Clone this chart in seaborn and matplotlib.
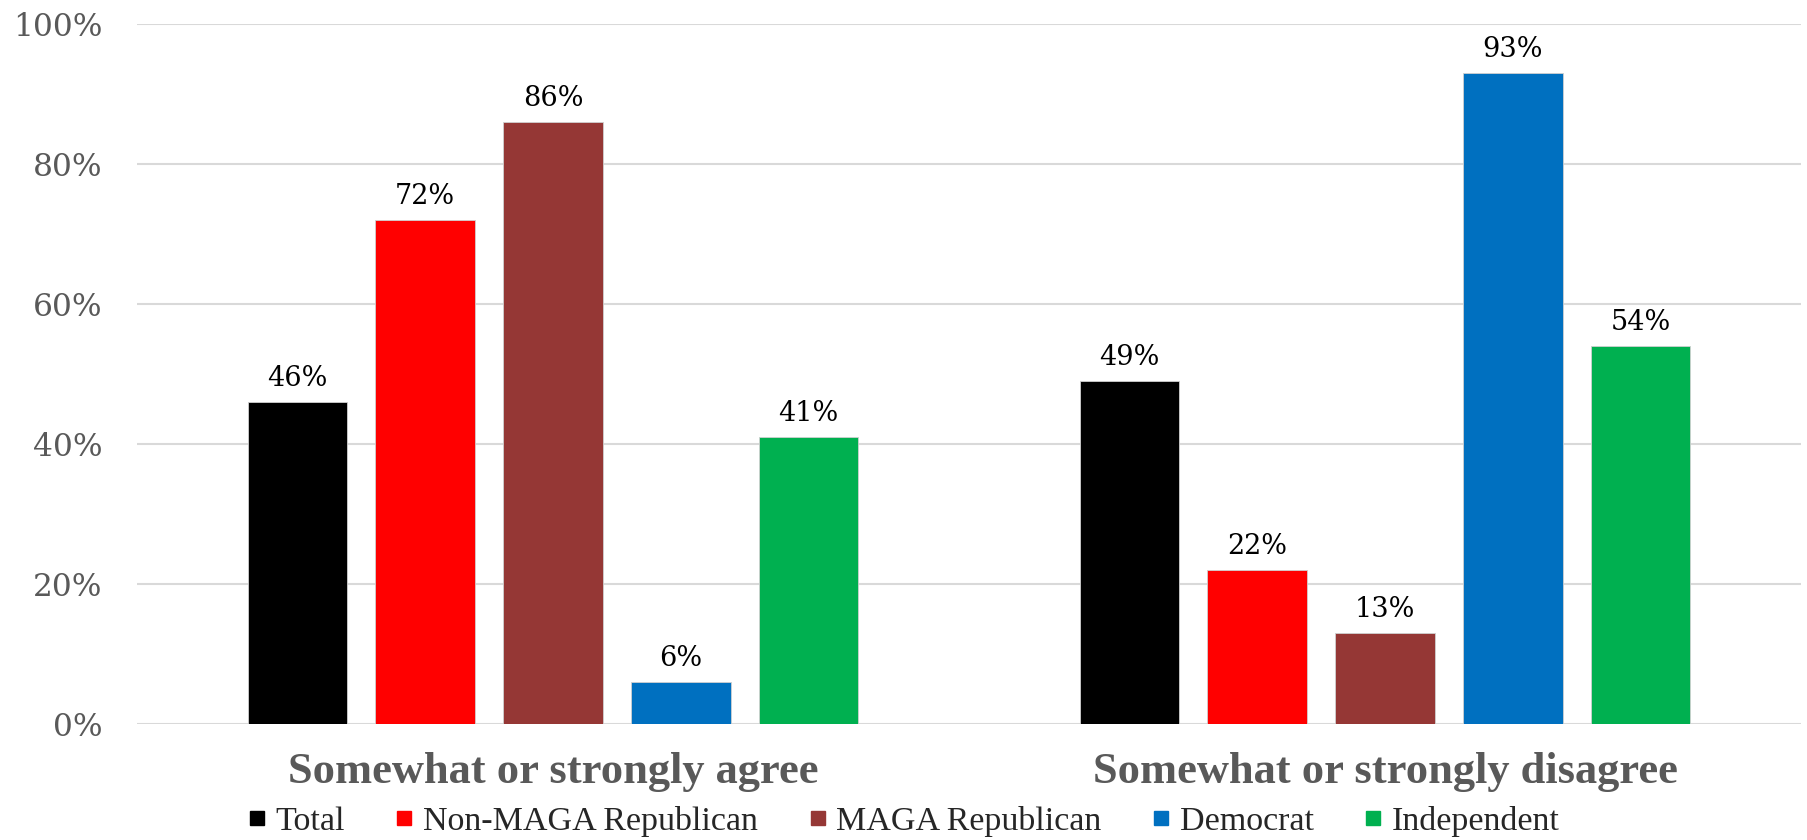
import pandas as pd
import matplotlib
matplotlib.use("Agg")
import matplotlib.pyplot as plt
import seaborn as sns
from matplotlib.lines import Line2D
from matplotlib.ticker import FuncFormatter

# Data
responses = ["Somewhat or strongly agree", "Somewhat or strongly disagree"]
groups = ["Total", "Non-MAGA Republican", "MAGA Republican", "Democrat", "Independent"]
agree = [46, 72, 86, 6, 41]
disagree = [49, 22, 13, 93, 54]
colors = ["#000000", "#FF0000", "#953735", "#0070C0", "#00B050"]

rows = []
for g, a, d in zip(groups, agree, disagree):
    rows.append({"Response": responses[0], "Group": g, "Pct": a})
    rows.append({"Response": responses[1], "Group": g, "Pct": d})
df = pd.DataFrame(rows)

sns.set_style("white")
plt.rcParams["font.family"] = ["DejaVu Serif"]

fig = plt.figure(figsize=(18.08, 8.4), dpi=100)
ax = fig.add_axes([0.0758, 0.138, 0.9203, 0.834])

sns.barplot(data=df, x="Response", y="Pct", hue="Group", order=responses,
            hue_order=groups, palette=colors, width=0.768, gap=0.22,
            saturation=1, legend=False, ax=ax, edgecolor="#d0d0d0", linewidth=0.6)

# Value labels on top of each bar
for cont in ax.containers:
    ax.bar_label(cont, labels=[f"{v:.0f}%" for v in cont.datavalues],
                 padding=7, fontsize=19.5, color="black")

ax.set_ylim(0, 100)
ax.set_xlim(-0.5, 1.5)
ax.set_yticks([0, 20, 40, 60, 80, 100])
ax.yaxis.set_major_formatter(FuncFormatter(lambda v, _: f"{v:.0f}%"))
ax.grid(axis="y", color="#d9d9d9", linewidth=1.5)
ax.set_axisbelow(True)
for s in ax.spines.values():
    s.set_visible(False)

ax.tick_params(axis="y", length=0, labelsize=22.5, labelcolor="#595959", pad=25)
ax.tick_params(axis="x", length=0, pad=20)
for lab in ax.get_xticklabels():
    lab.set_fontfamily("Liberation Serif")
    lab.set_fontweight("bold")
    lab.set_fontsize(32)
    lab.set_color("#595959")
ax.set_xlabel("")
ax.set_ylabel("")

handles = [Line2D([], [], marker="s", linestyle="", markersize=10,
                  markerfacecolor=c, markeredgecolor=c) for c in colors]
fig.legend(handles, groups, loc="lower center", bbox_to_anchor=(0.5, -0.033),
           ncol=5, frameon=False, handlelength=0.5, handletextpad=0.3,
           columnspacing=1.5, prop={"family": "Liberation Serif", "size": 24.5})

fig.savefig("out.png", dpi=100)
